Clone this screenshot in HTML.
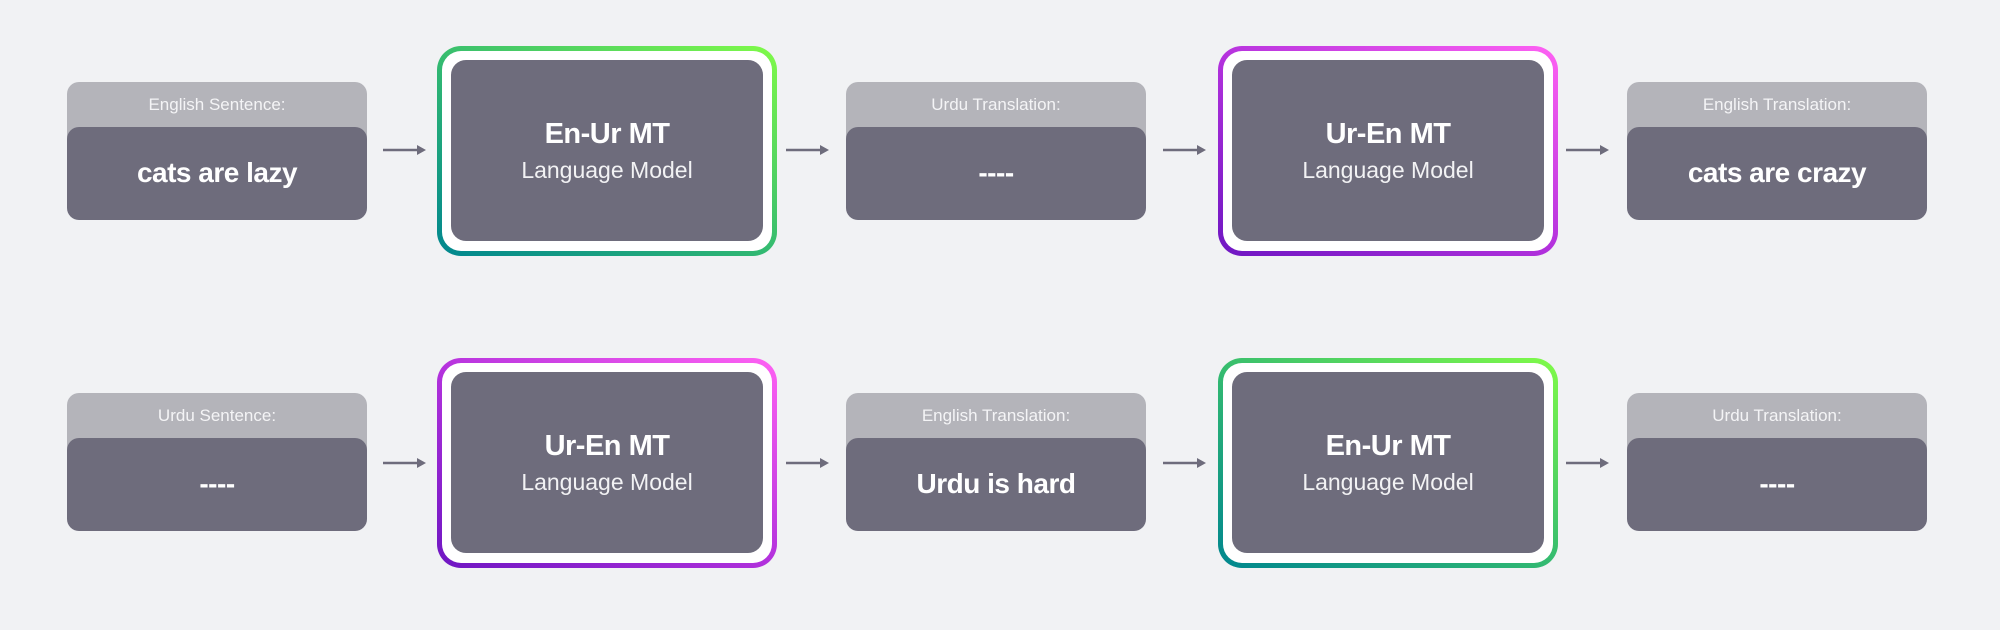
<!DOCTYPE html>
<html><head><meta charset="utf-8"><style>
html,body{margin:0;padding:0}
body{width:2000px;height:630px;background:#f1f2f4;position:relative;overflow:hidden;font-family:"Liberation Sans",sans-serif}
.box{position:absolute;width:300px;height:138px}
.hd{position:absolute;left:0;top:0;width:300px;height:60px;background:#b4b4ba;border-radius:12px 12px 0 0;color:#f4f4f6;font-size:17px;text-align:center;line-height:46px}
.bd{position:absolute;left:0;top:45px;width:300px;height:93px;background:#6e6c7c;border-radius:12px;color:#fff;font-weight:bold;font-size:28px;text-align:center;line-height:92px;letter-spacing:-0.5px}
.m{position:absolute;width:340px;height:210px;border-radius:24px}
.g{background:linear-gradient(30deg,#00868f 0%,#2fb673 45%,#80fb48 100%)}
.p{background:linear-gradient(30deg,#6e16c2 0%,#b432dd 50%,#ff62f3 100%)}
.m .w{position:absolute;left:5px;top:5px;right:5px;bottom:5px;background:#fff;border-radius:19px}
.m .d{position:absolute;left:14px;top:14px;right:14px;bottom:15px;background:#6e6c7c;border-radius:15px;color:#fff;text-align:center}
.d b{display:block;font-size:29px;margin-top:58px;line-height:32px;letter-spacing:-0.5px}
.d span{display:block;font-size:23px;margin-top:6px;line-height:28px;color:#f2f2f4}
.ar{position:absolute;width:44px;height:14px}
</style></head><body>
<svg width="0" height="0" style="position:absolute"><defs><symbol id="a" viewBox="0 0 44 14"><line x1="0" y1="7" x2="40" y2="7" stroke="#6e6c7c" stroke-width="2.5"/><path d="M34 2 L43 7 L34 12 Z" fill="#6e6c7c"/></symbol></defs></svg>

<div class="box" style="left:67px;top:82px"><div class="hd">English Sentence:</div><div class="bd">cats are lazy</div></div>
<svg class="ar" style="left:383px;top:143px"><use href="#a"/></svg>
<div class="m g" style="left:437px;top:46px"><div class="w"></div><div class="d"><b>En-Ur MT</b><span>Language Model</span></div></div>
<svg class="ar" style="left:786px;top:143px"><use href="#a"/></svg>
<div class="box" style="left:846px;top:82px"><div class="hd">Urdu Translation:</div><div class="bd">----</div></div>
<svg class="ar" style="left:1163px;top:143px"><use href="#a"/></svg>
<div class="m p" style="left:1218px;top:46px"><div class="w"></div><div class="d"><b>Ur-En MT</b><span>Language Model</span></div></div>
<svg class="ar" style="left:1566px;top:143px"><use href="#a"/></svg>
<div class="box" style="left:1627px;top:82px"><div class="hd">English Translation:</div><div class="bd">cats are crazy</div></div>

<div class="box" style="left:67px;top:393px"><div class="hd">Urdu Sentence:</div><div class="bd">----</div></div>
<svg class="ar" style="left:383px;top:456px"><use href="#a"/></svg>
<div class="m p" style="left:437px;top:358px"><div class="w"></div><div class="d"><b>Ur-En MT</b><span>Language Model</span></div></div>
<svg class="ar" style="left:786px;top:456px"><use href="#a"/></svg>
<div class="box" style="left:846px;top:393px"><div class="hd">English Translation:</div><div class="bd">Urdu is hard</div></div>
<svg class="ar" style="left:1163px;top:456px"><use href="#a"/></svg>
<div class="m g" style="left:1218px;top:358px"><div class="w"></div><div class="d"><b>En-Ur MT</b><span>Language Model</span></div></div>
<svg class="ar" style="left:1566px;top:456px"><use href="#a"/></svg>
<div class="box" style="left:1627px;top:393px"><div class="hd">Urdu Translation:</div><div class="bd">----</div></div>
</body></html>
